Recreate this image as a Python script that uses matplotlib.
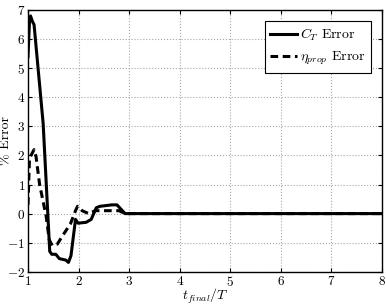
import numpy as np
import matplotlib
matplotlib.use("Agg")
import matplotlib.pyplot as plt

plt.rcParams['font.family'] = 'serif'
plt.rcParams['font.serif'] = ['cmr10']
plt.rcParams['mathtext.fontset'] = 'cm'
plt.rcParams['axes.formatter.use_mathtext'] = True

# C_T error
t_ct = [1.0, 1.03, 1.05, 1.09, 1.12, 1.30, 1.43, 1.47, 1.55, 1.62, 1.75, 1.80,
        1.85, 1.94, 1.99, 2.15, 2.25, 2.35, 2.42, 2.66, 2.76, 2.92, 3.2, 4.0, 5.0, 6.0, 7.0, 8.0]
ct_err = [5.4, 6.6, 6.8, 6.6, 6.5, 3.1, -1.3, -1.4, -1.4, -1.55, -1.6, -1.68,
          -1.45, -0.2, -0.33, -0.3, -0.2, 0.2, 0.25, 0.3, 0.3, 0.0, 0.0, 0.0, 0.0, 0.0, 0.0, 0.0]

# eta_prop error
t_eta = [1.0, 1.03, 1.06, 1.12, 1.16, 1.23, 1.36, 1.42, 1.48, 1.58, 1.67, 1.84,
         1.94, 1.98, 2.07, 2.2, 2.33, 2.46, 2.8, 2.92, 3.2, 4.0, 5.0, 6.0, 7.0, 8.0]
eta_err = [0.3, 1.9, 2.0, 2.2, 1.95, 1.0, -0.1, -0.9, -1.1, -1.05, -0.8, -0.35,
           0.1, 0.25, 0.1, 0.0, 0.1, 0.1, 0.1, 0.0, 0.0, 0.0, 0.0, 0.0, 0.0, 0.0]

fig = plt.figure(figsize=(3.86, 3.06), dpi=100)
ax = fig.add_axes([0.0725, 0.112, 0.917, 0.855])

ax.plot(t_ct, ct_err, 'k-', lw=2.2, label=r'$C_T$ Error')
ax.plot(t_eta, eta_err, 'k--', lw=2.2, dashes=(2.5, 1.5), label=r'$\eta_{prop}$ Error')

ax.set_xlim(1, 8)
ax.set_ylim(-2, 7)
ax.set_xticks(range(1, 9))
ax.set_yticks(range(-2, 8))
ax.tick_params(direction='in', labelsize=9.5, length=3, top=True, right=True, pad=2)
ax.grid(True, linestyle=':', color='0.65', lw=0.8)
for s in ax.spines.values():
    s.set_linewidth(1.0)

ax.set_xlabel(r'$t_{final}/T$', fontsize=10)
ax.xaxis.set_label_coords(0.5, -0.058)
ax.set_ylabel(r'% Error', fontsize=10)
ax.yaxis.set_label_coords(-0.045, 0.5)

leg = ax.legend(loc='upper right', fontsize=10, fancybox=False, framealpha=1,
                edgecolor='k', handlelength=1.9, handletextpad=0.2,
                borderaxespad=0.8, borderpad=0.4)
leg.get_frame().set_linewidth(0.8)

fig.savefig('out.png', dpi=100)
